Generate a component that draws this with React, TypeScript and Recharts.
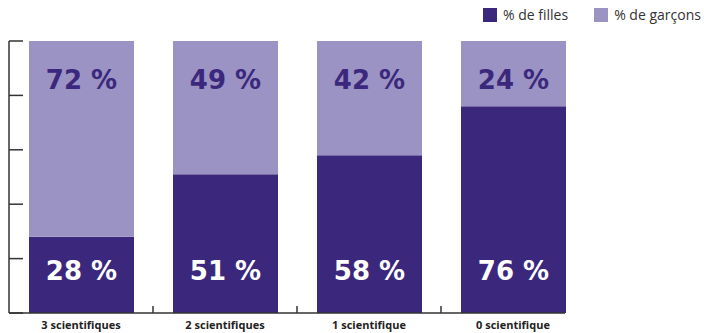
import React from 'react';
import { BarChart, Bar, XAxis, YAxis, LabelList } from 'recharts';

const categories = ['3 scientifiques', '2 scientifiques', '1 scientifique', '0 scientifique'];
const filles = [28, 51, 58, 76];
const garcons = [72, 49, 42, 24];
const yTicks = [0, 20, 40, 60, 80, 100];

const data = categories.map((name, i) => ({ name, filles: filles[i], garcons: garcons[i] }));

const DARK = '#3b287d';
const LIGHT = '#9b93c3';
const AXIS = '#333';
const BAND = 144; // category band width in px, used for the separator ticks

// labels sit a fixed distance from the top / bottom of the bar
const topLabel = (props: any) => {
  const { x, y, width, value } = props;
  return (
    <text x={x + width / 2} y={y + 39} textAnchor="middle" dominantBaseline="central"
      fill={DARK} fontSize={26} fontWeight="bold" fontFamily="DejaVu Sans">
      {value} %
    </text>
  );
};

const bottomLabel = (props: any) => {
  const { x, y, width, height, value } = props;
  return (
    <text x={x + width / 2} y={y + height - 42} textAnchor="middle" dominantBaseline="central"
      fill="#fff" fontSize={26} fontWeight="bold" fontFamily="DejaVu Sans">
      {value} %
    </text>
  );
};

// category label plus a small upward tick on the band boundary to its right
const CategoryTick = (props: any) => {
  const { x, y, payload, index } = props;
  const axisY = y - 8;
  return (
    <g>
      {index < categories.length - 1 && (
        <line x1={x + BAND / 2} x2={x + BAND / 2} y1={axisY} y2={axisY - 7} stroke={AXIS} strokeWidth={1.5} />
      )}
      <text x={x} y={y} dy="0.71em" textAnchor="middle" fill="#222" fontSize={11}
        fontWeight="bold" fontFamily="Open Sans">
        {payload.value}
      </text>
    </g>
  );
};

const LegendBox = () => (
  <div style={{ position: 'absolute', left: 483, top: 5, display: 'flex', alignItems: 'center',
    fontFamily: 'Open Sans', fontSize: 14, color: '#333', whiteSpace: 'nowrap' }}>
    <span style={{ width: 14, height: 14, background: DARK, display: 'inline-block', marginRight: 6 }} />
    <span style={{ marginRight: 26 }}>% de filles</span>
    <span style={{ width: 14, height: 14, background: LIGHT, display: 'inline-block', marginRight: 6 }} />
    <span>% de garçons</span>
  </div>
);

const App: React.FC = () => {
  return (
    <div style={{ position: 'absolute', left: 0, top: 0, width: 704, height: 333 }}>
      <BarChart width={704} height={333} data={data}
        margin={{ top: 41, right: 139, bottom: 0, left: 9 }}>
        <XAxis dataKey="name" height={20} tickLine={false} tickSize={0} tickMargin={8}
          axisLine={{ stroke: AXIS, strokeWidth: 1.5 }} interval={0}
          padding={{ left: 0, right: -20 }} tick={<CategoryTick />} />
        <YAxis domain={[0, 100]} ticks={yTicks} mirror tickSize={14} interval={0}
          axisLine={{ stroke: AXIS, strokeWidth: 1.5 }} tickLine={{ stroke: AXIS, strokeWidth: 1.5 }}
          tickFormatter={() => ''} />
        <Bar dataKey="filles" stackId="a" fill={DARK} barSize={105} isAnimationActive={false}>
          <LabelList dataKey="filles" content={bottomLabel} />
        </Bar>
        <Bar dataKey="garcons" stackId="a" fill={LIGHT} barSize={105} isAnimationActive={false}>
          <LabelList dataKey="garcons" content={topLabel} />
        </Bar>
      </BarChart>
      <LegendBox />
    </div>
  );
};

export default App;
